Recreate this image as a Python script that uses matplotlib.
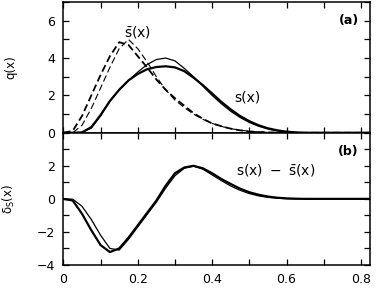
import matplotlib
matplotlib.use("Agg")
import matplotlib.pyplot as plt
from matplotlib.ticker import MultipleLocator

plt.rcParams['font.family'] = ['DejaVu Sans']
plt.rcParams['mathtext.fontset'] = 'dejavusans'

x = [0, .025, .05, .075, .1, .125, .15, .175, .2, .225, .25, .275, .3, .325, .35,
     .375, .4, .425, .45, .475, .5, .525, .55, .575, .6, .625, .65, .7, .75, .825]

s_thin = [0, 0, 0.02, 0.25, 0.9, 1.7, 2.3, 2.8, 3.25, 3.65, 3.92, 4.0, 3.85, 3.45, 3.0,
          2.5, 2.0, 1.55, 1.15, 0.82, 0.55, 0.35, 0.2, 0.1, 0.04, 0.01, 0, 0, 0, 0]
s_thick = [0, 0, 0.02, 0.3, 0.95, 1.7, 2.3, 2.8, 3.15, 3.4, 3.52, 3.56, 3.5, 3.3, 2.95,
           2.55, 2.1, 1.65, 1.25, 0.9, 0.62, 0.4, 0.24, 0.13, 0.06, 0.02, 0, 0, 0, 0]
sb_thick = [0, 0.1, 0.9, 2.0, 3.1, 4.1, 4.85, 4.7, 4.1, 3.5, 2.85, 2.3, 1.85, 1.45, 1.05,
            0.75, 0.5, 0.35, 0.22, 0.13, 0.07, 0.04, 0.02, 0.01, 0, 0, 0, 0, 0, 0]
sb_thin = [0, 0, 0.4, 1.3, 2.4, 3.5, 4.5, 5.0, 4.5, 3.8, 3.0, 2.3, 1.75, 1.35, 1.0,
           0.72, 0.5, 0.34, 0.22, 0.14, 0.08, 0.05, 0.02, 0.01, 0, 0, 0, 0, 0, 0]
d_thick = [0, -0.1, -0.9, -1.9, -2.8, -3.22, -3.0, -2.35, -1.6, -0.85, -0.1, 0.8, 1.55, 1.9, 2.0,
           1.85, 1.55, 1.2, 0.9, 0.62, 0.4, 0.25, 0.14, 0.07, 0.03, 0.01, 0, 0, 0, 0]
d_thin = [0, -0.02, -0.45, -1.25, -2.2, -3.0, -3.1, -2.45, -1.7, -0.95, -0.2, 0.65, 1.4, 1.85, 1.98,
          1.8, 1.45, 1.1, 0.78, 0.52, 0.32, 0.18, 0.09, 0.04, 0.01, 0, 0, 0, 0, 0]

xticks = [0, 0.2, 0.4, 0.6, 0.8]
xticklabels = ['0', '0.2', '0.4', '0.6', '0.8']

fig = plt.figure(figsize=(3.82, 2.88), dpi=100)
ax1 = fig.add_axes([0.166, 0.539, 0.803, 0.454])
ax2 = fig.add_axes([0.166, 0.080, 0.803, 0.459])

ax1.plot(x, s_thin, color='k', lw=0.9)
ax1.plot(x, s_thick, color='k', lw=1.6)
ax1.plot(x, sb_thick, color='k', lw=1.3, ls=(0, (4, 2)))
ax1.plot(x, sb_thin, color='k', lw=0.8, ls=(0, (6, 3)))

ax2.plot(x, d_thin, color='k', lw=0.9)
ax2.plot(x, d_thick, color='k', lw=1.6)

for ax in (ax1, ax2):
    ax.set_xlim(0, 0.825)
    ax.xaxis.set_major_locator(MultipleLocator(0.2))
    ax.xaxis.set_minor_locator(MultipleLocator(0.1))
    ax.tick_params(which='both', direction='in', top=True, right=True, length=4,
                   width=0.9, labelsize=9, pad=6)
    for sp in ax.spines.values():
        sp.set_linewidth(1.1)

ax1.set_ylim(0, 7)
ax1.yaxis.set_major_locator(MultipleLocator(2))
ax1.yaxis.set_minor_locator(MultipleLocator(1))
ax1.set_xticks(xticks)
ax1.set_xticklabels([])

ax2.set_ylim(-4, 4)
ax2.yaxis.set_major_locator(MultipleLocator(2))
ax2.yaxis.set_minor_locator(MultipleLocator(1))
ax2.set_xticks(xticks)
ax2.set_xticklabels(xticklabels)
ax2.set_yticks([-4, -2, 0, 2])

ax1.set_ylabel('q(x)', fontsize=8.5)
ax2.set_ylabel(r'$\mathregular{\delta_S(x)}$', fontsize=8.5)
ax1.yaxis.set_label_coords(-0.15, 0.5)
ax2.yaxis.set_label_coords(-0.15, 0.5)

ax1.text(0.768, 6.0, '(a)', fontsize=9, ha='center', va='center', fontweight='bold')
ax2.text(0.765, 2.86, '(b)', fontsize=9, ha='center', va='center', fontweight='bold')
ax1.text(0.2, 5.4, r'$\mathregular{\bar{s}(x)}$', fontsize=10, ha='center', va='center')
ax1.text(0.495, 1.9, 's(x)', fontsize=10, ha='center', va='center')
ax2.text(0.57, 1.75, r'$\mathregular{s(x)\ -\ \bar{s}(x)}$', fontsize=10, ha='center', va='center')

fig.savefig('out.png', dpi=100)
